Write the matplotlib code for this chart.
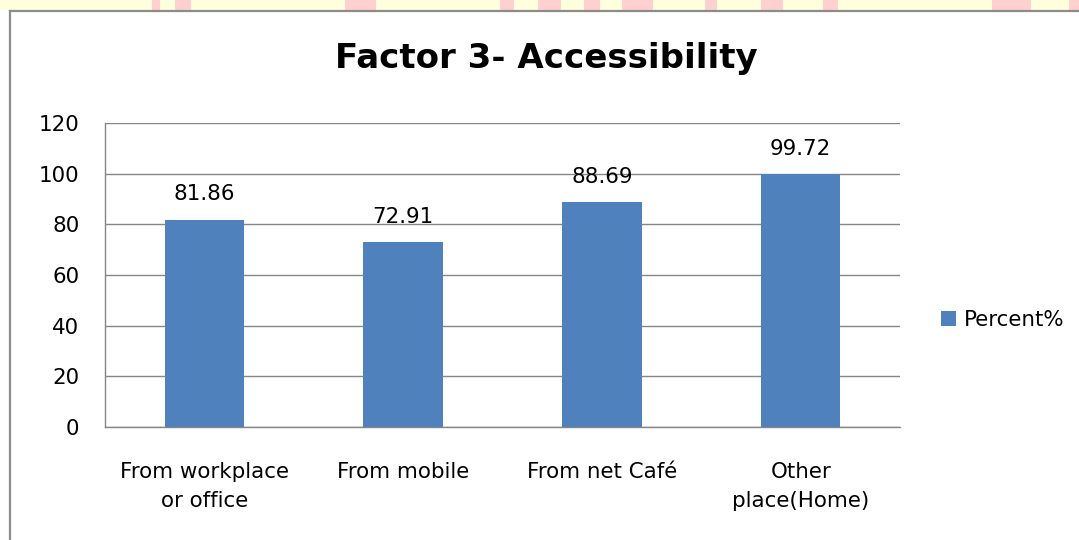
import matplotlib.pyplot as plt
from matplotlib.patches import Rectangle, Patch
from matplotlib.lines import Line2D
import numpy as np

categories = ['From workplace\nor office', 'From mobile', 'From net Café', 'Other\nplace(Home)']
percent = [81.86, 72.91, 88.69, 99.72]
yticks = [0, 20, 40, 60, 80, 100, 120]
series_name = 'Percent%'
title = 'Factor 3- Accessibility'

# pink blocks in the page strip above the chart (pixel spans)
pink_spans = [(152, 160), (175, 191), (345, 376), (500, 514), (538, 561), (584, 600),
              (622, 653), (705, 717), (761, 783), (823, 838), (992, 1031), (1069, 1079)]

W, H = 1079, 540
plt.rcParams['font.family'] = ['DejaVu Sans']
fs = 15.4

fig = plt.figure(figsize=(W / 100, H / 100), dpi=100)
fig.patch.set_facecolor('white')

# page strip
fig.add_artist(Rectangle((0, 1 - 10 / H), 1, 10 / H, transform=fig.transFigure,
                         facecolor='#FFFFDD', edgecolor='none'))
for x0, x1 in pink_spans:
    fig.add_artist(Rectangle((x0 / W, 1 - 10 / H), (x1 - x0) / W, 10 / H,
                             transform=fig.transFigure, facecolor='#FFD0D0', edgecolor='none'))

# chart frame
border = '#8C8C8C'
fig.add_artist(Line2D([9.5 / W, 9.5 / W], [0, 1 - 10.5 / H], transform=fig.transFigure,
                      color=border, lw=1.6))
fig.add_artist(Line2D([9.5 / W, 1], [1 - 10.5 / H, 1 - 10.5 / H], transform=fig.transFigure,
                      color=border, lw=1.6))

ax = fig.add_axes([105 / W, 1 - 427 / H, 795 / W, 304 / H])
x = np.arange(len(categories))
ax.bar(x, percent, width=0.4, color='#4F81BD', zorder=3, label=series_name)

ax.set_xlim(-0.5, len(categories) - 0.5)
ax.set_ylim(0, 120)
ax.set_yticks(yticks)
ax.set_xticks(x)
ax.set_xticklabels(categories, linespacing=1.55)
ax.yaxis.grid(True, color='#868686', lw=1.0)
ax.set_axisbelow(True)
for s in ['top', 'right']:
    ax.spines[s].set_visible(False)
for s in ['left', 'bottom']:
    ax.spines[s].set_color('#868686')
    ax.spines[s].set_linewidth(1.0)
ax.tick_params(axis='both', length=0, labelsize=fs, colors='black')
ax.tick_params(axis='y', pad=18.5)
ax.tick_params(axis='x', pad=25)

# value labels above bars
for xi, v in zip(x, percent):
    ax.annotate(f'{v:.2f}', (xi, v), xytext=(0, 14), textcoords='offset points',
                ha='center', va='baseline', fontsize=fs)

fig.text(546 / W, 1 - 68 / H, title, ha='center', va='baseline',
         fontsize=24.5, fontweight='bold')

fig.legend(handles=[Patch(facecolor='#4F81BD', label=series_name)],
           loc='center left', bbox_to_anchor=(941 / W, 1 - 320 / H), frameon=False,
           fontsize=fs, handlelength=0.7, handleheight=0.7, handletextpad=0.35,
           borderaxespad=0, borderpad=0)

fig.savefig('out.png', dpi=100, facecolor=fig.get_facecolor())
